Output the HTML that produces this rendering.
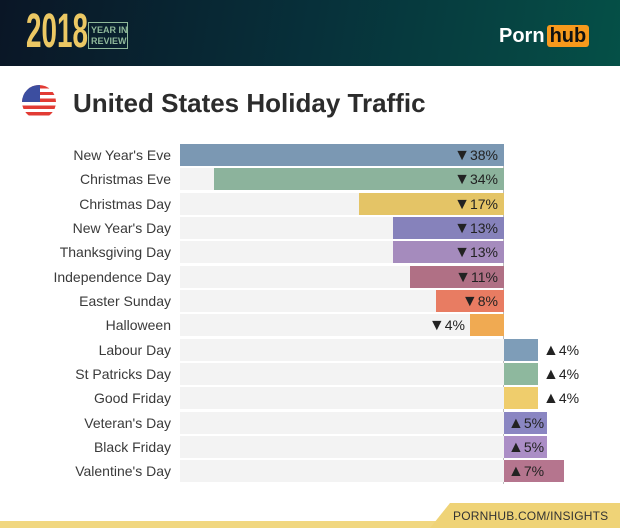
<!DOCTYPE html>
<html><head><style>
*{margin:0;padding:0;box-sizing:border-box}
body{width:620px;height:528px;background:#fff;position:relative;overflow:hidden;font-family:"Liberation Sans",sans-serif}
.hdr{position:absolute;left:0;top:0;width:620px;height:66px;background:linear-gradient(100deg,#0a1626 0%,#07303a 50%,#055047 100%)}
.y{position:absolute;left:26px;top:8px;font:bold 48px/48px "Liberation Sans",sans-serif;color:#ecc864;transform:scaleX(.58);transform-origin:left;white-space:nowrap}
.yir{position:absolute;left:88px;top:22px;border:1px solid #8fb89a;color:#8fb89a;font:bold 9px/11px "Liberation Sans",sans-serif;padding:2px 2px;width:40px;height:27px;white-space:nowrap;overflow:hidden}
.ph{position:absolute;left:499px;top:23px;font:bold 20px/26px "Liberation Sans",sans-serif;color:#fff}
.ph span{background:#f7991c;color:#111;border-radius:3px;padding:0 3px;margin-left:2px}
.t{position:absolute;left:73px;top:86px;font:bold 26px/34px "Liberation Sans",sans-serif;color:#2c2c2c}
.flag{position:absolute;left:22px;top:85px;width:34px;height:34px;border-radius:50%;overflow:hidden;background:repeating-linear-gradient(#e23b34 0 3.4px,#fff 3.4px 6.8px)}
.flag:after{content:"";position:absolute;left:0;top:0;width:18px;height:17px;background:#3c4ea0}
.row{position:absolute;left:0;height:22px;width:620px}
.lab{position:absolute;right:449px;top:0;font-size:14px;line-height:22px;color:#3a3a3a;white-space:nowrap}
.bg{position:absolute;left:180px;width:324px;top:0;height:22px;background:#f3f3f3}
.bar{position:absolute;top:0;height:22px}
.v{position:absolute;top:0;font-size:14px;line-height:22px;color:#222;white-space:nowrap}
.v b{font-size:16px;font-weight:normal}
.zero{position:absolute;left:503px;top:144px;width:1px;height:340px;background:#bbb}
.ft{position:absolute;left:430px;top:503px;width:200px;height:25px;background:#efd377;clip-path:polygon(20px 0,100% 0,100% 100%,0 100%)}
.ft2{position:absolute;left:0;top:521px;width:620px;height:7px;background:#f1d780}
.ftt{position:absolute;left:453px;top:508px;font-size:12px;line-height:16px;color:#333;letter-spacing:.2px}
</style></head><body>
<div class="hdr"><div class="y">2018</div><div class="yir">YEAR IN<br>REVIEW</div><div class="ph">Porn<span>hub</span></div></div>
<div class="flag"></div>
<div class="t">United States Holiday Traffic</div>
<div class="zero"></div>
<div class="row" style="top:144px"><div class="lab">New Year's Eve</div><div class="bg"></div><div class="bar" style="left:180px;width:324px;background:#7b98b3"></div><div class="v" style="right:122px"><b>▼</b>38%</div></div>
<div class="row" style="top:168px"><div class="lab">Christmas Eve</div><div class="bg"></div><div class="bar" style="left:214px;width:290px;background:#8cb39c"></div><div class="v" style="right:122px"><b>▼</b>34%</div></div>
<div class="row" style="top:193px"><div class="lab">Christmas Day</div><div class="bg"></div><div class="bar" style="left:359px;width:145px;background:#e4c466"></div><div class="v" style="right:122px"><b>▼</b>17%</div></div>
<div class="row" style="top:217px"><div class="lab">New Year's Day</div><div class="bg"></div><div class="bar" style="left:393px;width:111px;background:#8682bb"></div><div class="v" style="right:122px"><b>▼</b>13%</div></div>
<div class="row" style="top:241px"><div class="lab">Thanksgiving Day</div><div class="bg"></div><div class="bar" style="left:393px;width:111px;background:#a58bbd"></div><div class="v" style="right:122px"><b>▼</b>13%</div></div>
<div class="row" style="top:266px"><div class="lab">Independence Day</div><div class="bg"></div><div class="bar" style="left:410px;width:94px;background:#b07085"></div><div class="v" style="right:122px"><b>▼</b>11%</div></div>
<div class="row" style="top:290px"><div class="lab">Easter Sunday</div><div class="bg"></div><div class="bar" style="left:436px;width:68px;background:#e87c62"></div><div class="v" style="right:122px"><b>▼</b>8%</div></div>
<div class="row" style="top:314px"><div class="lab">Halloween</div><div class="bg"></div><div class="bar" style="left:470px;width:34px;background:#f0aa52"></div><div class="v" style="right:155px"><b>▼</b>4%</div></div>
<div class="row" style="top:339px"><div class="lab">Labour Day</div><div class="bg"></div><div class="bar" style="left:504px;width:34px;background:#7e9db8"></div><div class="v" style="left:543px"><b>▲</b>4%</div></div>
<div class="row" style="top:363px"><div class="lab">St Patricks Day</div><div class="bg"></div><div class="bar" style="left:504px;width:34px;background:#8eb89e"></div><div class="v" style="left:543px"><b>▲</b>4%</div></div>
<div class="row" style="top:387px"><div class="lab">Good Friday</div><div class="bg"></div><div class="bar" style="left:504px;width:34px;background:#efcd6c"></div><div class="v" style="left:543px"><b>▲</b>4%</div></div>
<div class="row" style="top:412px"><div class="lab">Veteran's Day</div><div class="bg"></div><div class="bar" style="left:504px;width:43px;background:#8a86c2"></div><div class="v" style="left:508px"><b>▲</b>5%</div></div>
<div class="row" style="top:436px"><div class="lab">Black Friday</div><div class="bg"></div><div class="bar" style="left:504px;width:43px;background:#ab8ec6"></div><div class="v" style="left:508px"><b>▲</b>5%</div></div>
<div class="row" style="top:460px"><div class="lab">Valentine's Day</div><div class="bg"></div><div class="bar" style="left:504px;width:60px;background:#b5758e"></div><div class="v" style="left:508px"><b>▲</b>7%</div></div>
<div class="ft2"></div><div class="ft"></div>
<div class="ftt">PORNHUB.COM/INSIGHTS</div>
</body></html>
